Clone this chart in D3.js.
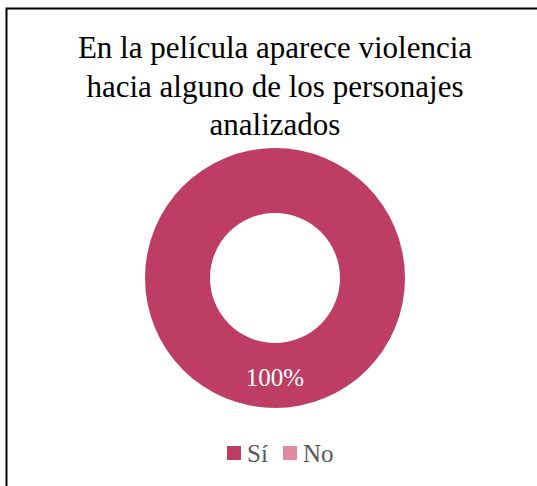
<!DOCTYPE html>
<html>
<head>
<meta charset="utf-8">
<script src="https://cdn.jsdelivr.net/npm/d3@7"></script>
<style>
  body { margin: 0; background: #fff; }
  svg { display: block; }
  text { font-family: "Liberation Serif", "Times New Roman", Times, "DejaVu Serif", serif; }
</style>
</head>
<body>
<div id="chart"></div>
<script>
// data
var categories = ["Sí", "No"];
var values = [100, 0];
var pct_labels = ["100%", ""];
var title_lines = ["En la película aparece violencia",
                   "hacia alguno de los personajes",
                   "analizados"];

var width = 537, height = 486;
var cx = 275, cy = 278, r_out = 130, r_in = 65;

var color = d3.scaleOrdinal()
    .domain(categories)
    .range(["#be3d64", "#e08ca0"]);

var svg = d3.select("#chart")
    .append("svg")
    .attr("width", width)
    .attr("height", height);

// frame
svg.append("rect")
    .attr("x", 6.5).attr("y", 8.5)
    .attr("width", 540).attr("height", 500)
    .attr("fill", "none")
    .attr("stroke", "#000")
    .attr("stroke-width", 2);

// title
svg.append("g")
    .selectAll("text")
    .data(title_lines)
    .enter()
    .append("text")
    .attr("x", cx)
    .attr("y", function(d, i) { return 58 + i * 38.5; })
    .attr("text-anchor", "middle")
    .attr("font-size", 31)
    .attr("fill", "#000")
    .text(function(d) { return d; });

var pie = d3.pie().sort(null).value(function(d) { return d; });
var arc = d3.arc().innerRadius(r_in).outerRadius(r_out);

var arcs = pie(values);

var g = svg.append("g")
    .attr("transform", "translate(" + cx + "," + cy + ")");

g.selectAll("path")
    .data(arcs)
    .enter()
    .append("path")
    .attr("d", arc)
    .attr("fill", function(d, i) { return color(categories[i]); });

// value label sits at bottom of the ring
g.selectAll("text.val")
    .data(arcs.filter(function(d) { return d.value > 0; }))
    .enter()
    .append("text")
    .attr("class", "val")
    .attr("x", 0)
    .attr("y", (r_in + r_out) / 2 + 10)
    .attr("text-anchor", "middle")
    .attr("font-size", 25)
    .attr("fill", "#fff")
    .text(function(d) { return pct_labels[d.index]; });

// legend
var leg_x = [227, 283];
var leg = svg.append("g")
    .selectAll("g")
    .data(categories)
    .enter()
    .append("g")
    .attr("transform", function(d, i) { return "translate(" + leg_x[i] + ",446)"; });

leg.append("rect")
    .attr("width", 14).attr("height", 14)
    .attr("fill", function(d) { return color(d); });

leg.append("text")
    .attr("x", 20)
    .attr("y", 16)
    .attr("font-size", 25)
    .attr("fill", "#595959")
    .text(function(d) { return d; });
</script>
</body>
</html>
